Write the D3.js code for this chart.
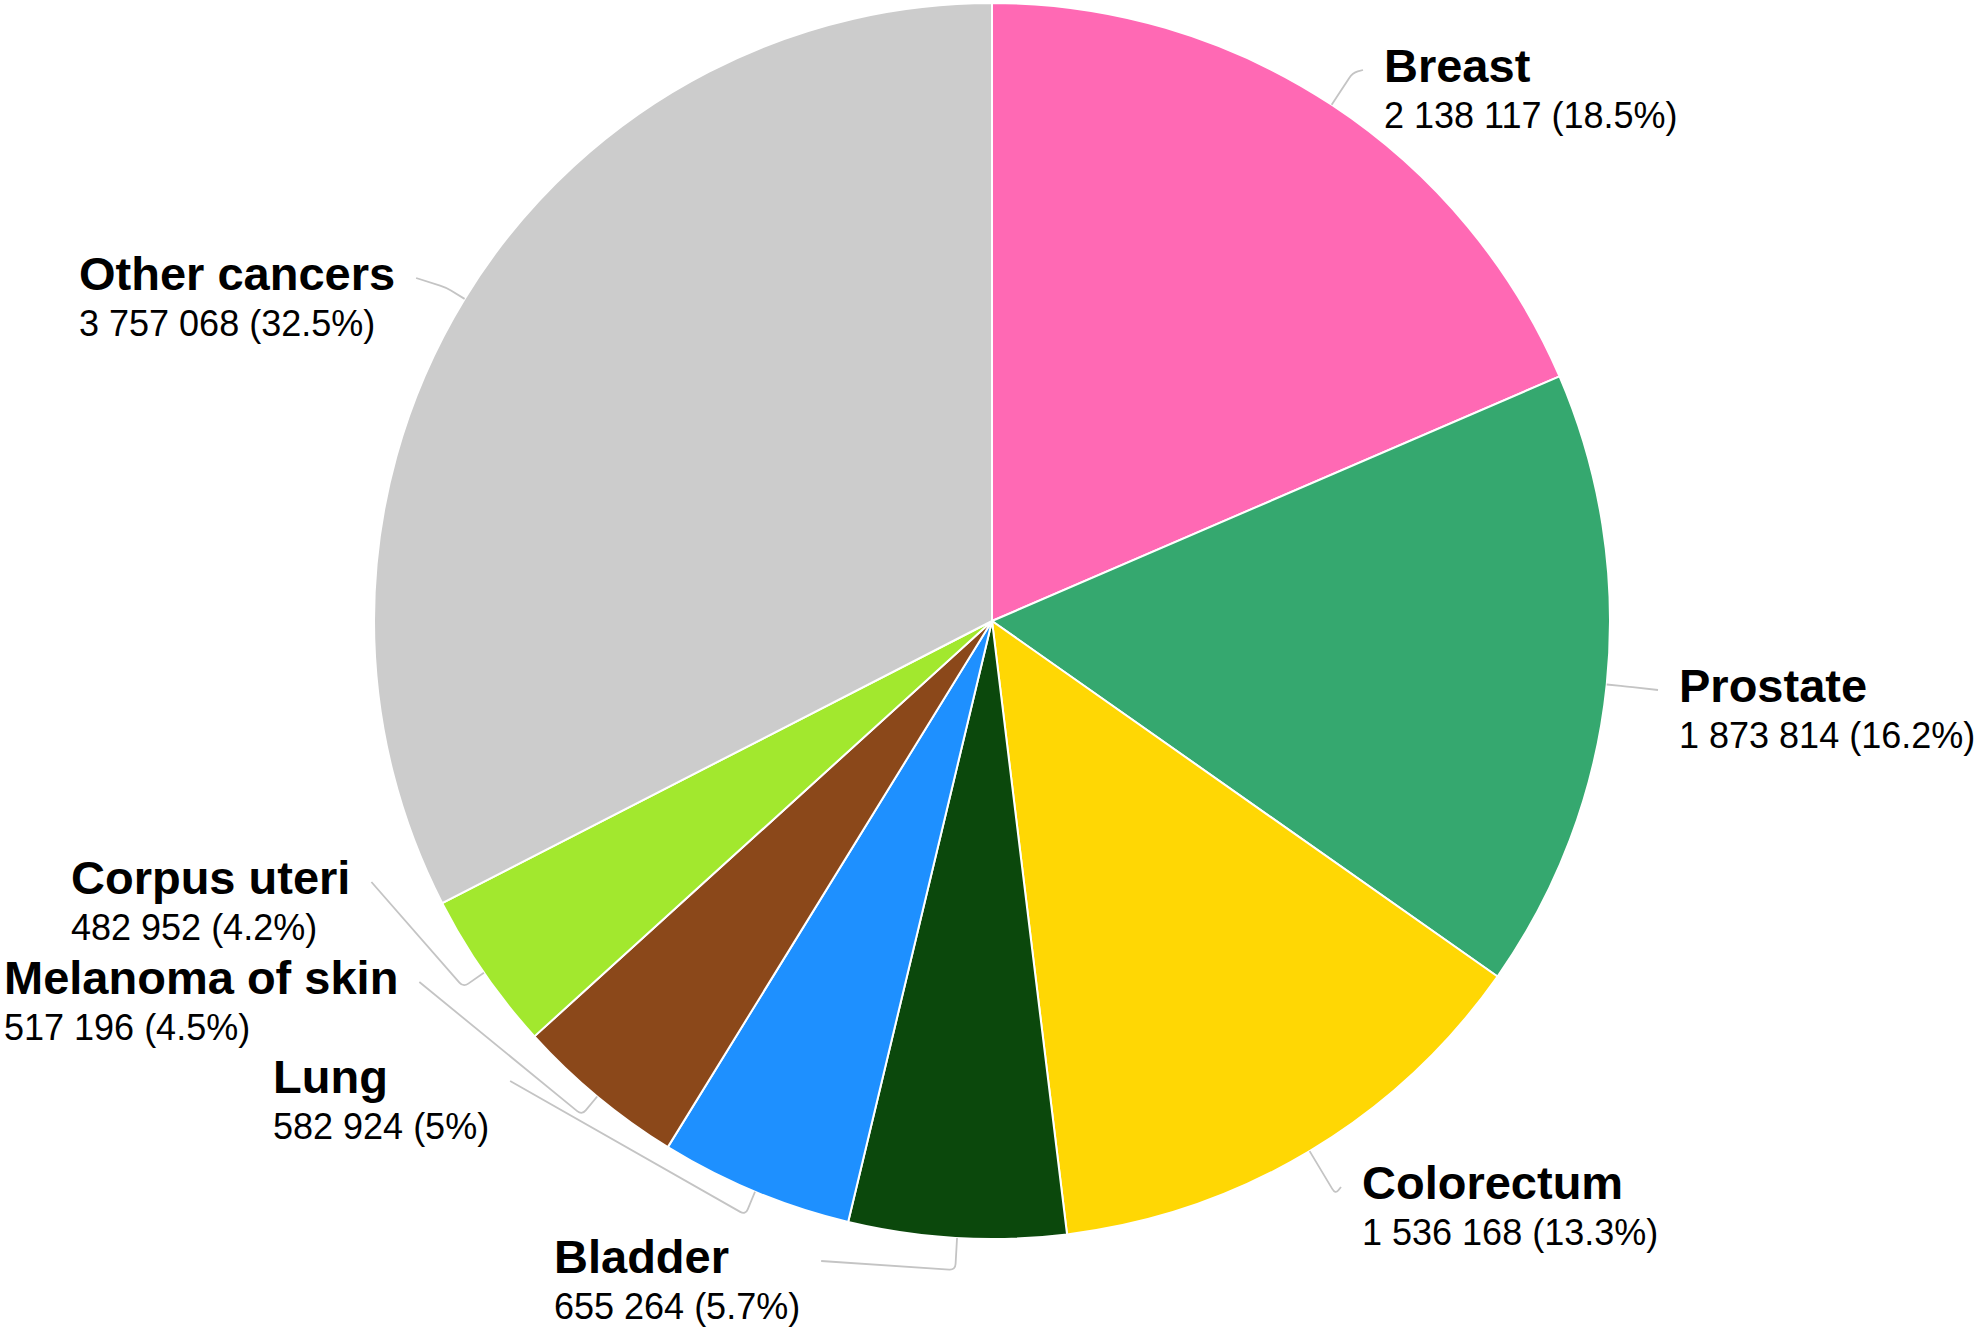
<!DOCTYPE html>
<html lang="en">
<head>
    <meta charset="UTF-8">
    <title>New cancer cases</title>
    <script src="https://d3js.org/d3.v7.min.js"></script>
    <style>
        body { margin: 0; background: #fff; }
        svg { display: block; font-family: "Liberation Sans", Arial, sans-serif; }
    </style>
</head>
<body>
<svg id="chart" width="1983" height="1331"></svg>

<script>
    // data, clockwise from 12 o'clock
    var categories = ["Breast", "Prostate", "Colorectum", "Bladder", "Lung",
        "Melanoma of skin", "Corpus uteri", "Other cancers"];
    var cases = [2138117, 1873814, 1536168, 655264, 582924, 517196, 482952, 3757068];
    var colors = ["#ff69b4", "#35a86f", "#ffd704", "#0b480c", "#1e90ff",
        "#8b481a", "#a2e82e", "#cccccc"];

    // label layout: left x and name baseline, plus where the leader bends
    var labelPos = [[1384, 82], [1679, 702], [1362, 1199], [554, 1273],
        [273, 1093], [4, 994], [71, 894], [79, 290]];
    var elbowR = [656, 638, 668, 650, 643, 642, 643, 640];

    var svg = d3.select("#chart"),
        cx = 992, cy = 621, radius = 618;

    var total = d3.sum(cases);
    var fmt = d3.formatLocale({decimal: ".", thousands: " ", grouping: [3], currency: ["", ""]}).format(",d");
    function pct(v) {
        var p = (v / total * 100).toFixed(1);
        return p.replace(/\.0$/, "") + "%";
    }

    var pie = d3.pie().sort(null).value(function (d) { return d; });
    var arcs = pie(cases);
    var arc = d3.arc().innerRadius(0).outerRadius(radius);

    var g = svg.append("g").attr("transform", "translate(" + cx + "," + cy + ")");

    g.selectAll("path.slice")
        .data(arcs)
        .enter().append("path")
        .attr("class", "slice")
        .attr("d", arc)
        .attr("fill", function (d, i) { return colors[i]; })
        .attr("stroke", "#fff")
        .attr("stroke-width", 2)
        .attr("stroke-linejoin", "round");

    // labels
    var labels = svg.append("g");
    arcs.forEach(function (d, i) {
        var lx = labelPos[i][0], ly = labelPos[i][1];
        var t = labels.append("text").attr("x", lx).attr("y", ly).attr("fill", "#000");
        t.append("tspan").attr("x", lx).attr("font-size", 47).attr("font-weight", "bold").text(categories[i]);
        t.append("tspan").attr("x", lx).attr("dy", 46).attr("font-size", 36).text(fmt(cases[i]) + " (" + pct(cases[i]) + ")");

        var mid = (d.startAngle + d.endAngle) / 2;
        var p0 = [cx + radius * Math.sin(mid), cy - radius * Math.cos(mid)];
        var p1 = [cx + elbowR[i] * Math.sin(mid), cy - elbowR[i] * Math.cos(mid)];
        var w = t.node().getBBox().width;
        var p2 = lx > cx ? [lx - 21, ly - 12] : [lx + w + 21, ly - 12];

        // rounded corner at the bend
        var k = 6;
        function toward(a, b, s) {
            var dx = b[0] - a[0], dy = b[1] - a[1], len = Math.sqrt(dx * dx + dy * dy) || 1;
            s = Math.min(s, len / 2);
            return [a[0] + dx / len * s, a[1] + dy / len * s];
        }
        var a1 = toward(p1, p0, k), a2 = toward(p1, p2, k);
        var path = d3.path();
        path.moveTo(p0[0], p0[1]);
        path.lineTo(a1[0], a1[1]);
        path.quadraticCurveTo(p1[0], p1[1], a2[0], a2[1]);
        path.lineTo(p2[0], p2[1]);

        labels.append("path")
            .attr("d", path.toString())
            .attr("fill", "none")
            .attr("stroke", "#c4c4c4")
            .attr("stroke-width", 1.8);
    });
</script>
</body>
</html>
